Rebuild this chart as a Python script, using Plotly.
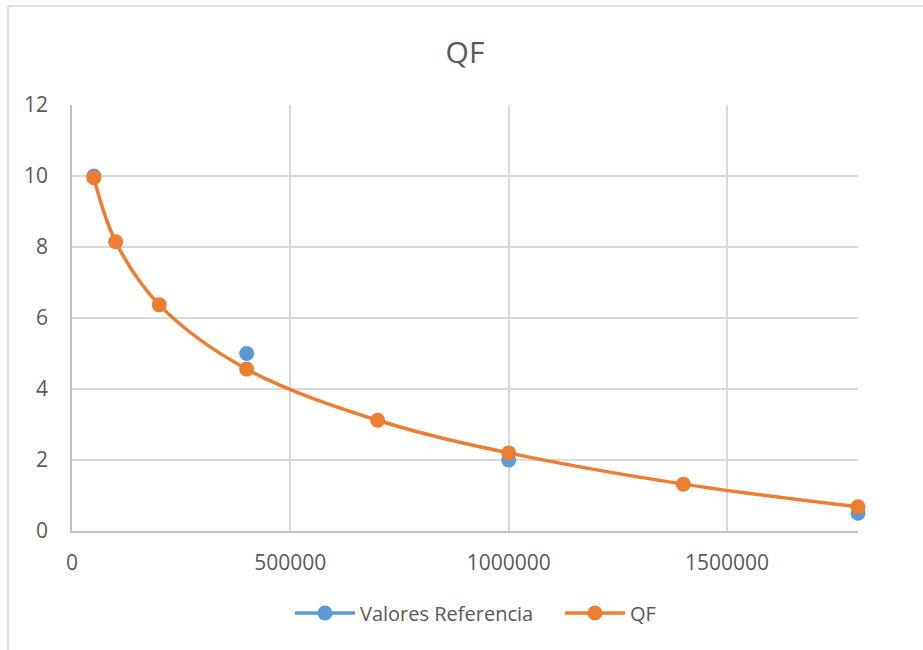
import plotly.graph_objects as go

# Reference values
ref_x = [50000, 400000, 1000000, 1800000]
ref_y = [10, 5, 2, 0.5]

# QF series
qf_x = [50000, 100000, 200000, 400000, 700000, 1000000, 1400000, 1800000]
qf_y = [9.95, 8.15, 6.37, 4.56, 3.12, 2.2, 1.32, 0.68]

x_ticks = [0, 500000, 1000000, 1500000]
y_ticks = [0, 2, 4, 6, 8, 10, 12]

BLUE = "#5B9BD5"
ORANGE = "#ED7D31"
FONT = "Open Sans, Noto Sans, sans-serif"
TEXT = "#595959"

# plot area in pixels (for placing legends)
PL, PR, PT, PB = 72, 858, 105, 531
PW, PH = PR - PL, PB - PT

# Break the reference series with gaps so only markers show in the plot,
# while the legend entry still carries a line sample.
gx, gy = [], []
for xv, yv in zip(ref_x, ref_y):
    gx += [xv, None]
    gy += [yv, None]

fig = go.Figure()
fig.add_trace(go.Scatter(
    x=gx, y=gy, name="Valores Referencia", mode="lines+markers",
    connectgaps=False,
    line=dict(color=BLUE, width=3.5),
    marker=dict(color=BLUE, size=15),
    cliponaxis=False, legend="legend",
))
fig.add_trace(go.Scatter(
    x=qf_x, y=qf_y, name="QF", mode="lines+markers",
    line=dict(color=ORANGE, width=3.5, shape="spline", smoothing=1.0),
    marker=dict(color=ORANGE, size=15),
    cliponaxis=False, legend="legend2",
))

legend_common = dict(orientation="h", xanchor="left",
                     y=-(613 - PB) / PH, yanchor="middle",
                     font=dict(size=20, color=TEXT), itemwidth=60,
                     bgcolor="rgba(0,0,0,0)")

fig.update_layout(
    width=923, height=650,
    margin=dict(l=PL, r=923 - PR, t=PT, b=650 - PB),
    paper_bgcolor="white", plot_bgcolor="white",
    font=dict(family=FONT, size=20, color=TEXT),
    title=dict(text="QF", x=(PL + PR) / 2 / 923, xanchor="center",
               y=1 - 52 / 650, yanchor="middle",
               font=dict(size=30, color=TEXT, family=FONT)),
    showlegend=True,
    legend=dict(x=(290 - PL) / PW, **legend_common),
    legend2=dict(x=(560 - PL) / PW, **legend_common),
    shapes=[dict(type="rect", xref="paper", yref="paper",
                 x0=(8 - PL) / PW, x1=1.2, y0=-0.5, y1=(PB - 6) / PH,
                 line=dict(color="#D9D9D9", width=1.5), layer="below")],
)

fig.update_xaxes(
    range=[0, 1800000], tickvals=x_ticks, ticktext=[str(v) for v in x_ticks],
    showgrid=True, gridcolor="#D9D9D9", gridwidth=1.5,
    showline=True, linecolor="#BFBFBF", linewidth=1.5,
    zeroline=False, ticks="", ticklabelstandoff=12,
    tickfont=dict(size=21, color=TEXT),
)
fig.update_yaxes(
    range=[0, 12], tickvals=y_ticks,
    showgrid=True, gridcolor="#D9D9D9", gridwidth=1.5,
    showline=True, linecolor="#BFBFBF", linewidth=1.5,
    zeroline=False, ticks="", ticklabelstandoff=18,
    tickfont=dict(size=21, color=TEXT),
)

fig.write_html("out.html")
